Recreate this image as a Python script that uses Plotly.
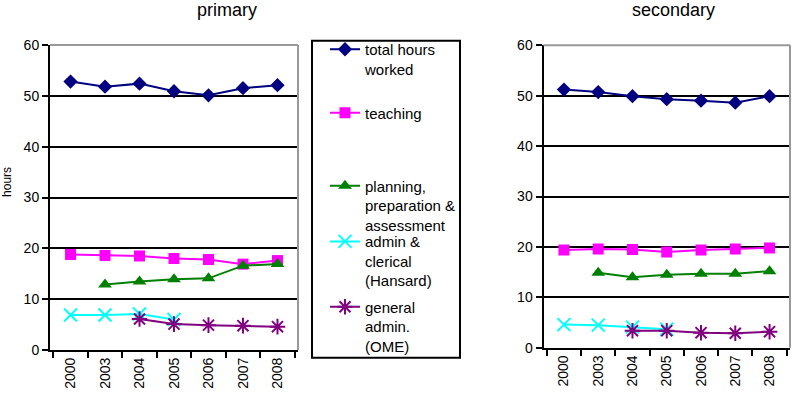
import plotly.graph_objects as go

W, H = 803, 408

years = ["2000", "2003", "2004", "2005", "2006", "2007", "2008"]

# primary
p_total = [52.8, 51.8, 52.4, 50.9, 50.1, 51.5, 52.1]
p_teaching = [18.8, 18.6, 18.5, 18.0, 17.8, 16.9, 17.6]
p_planning = [None, 12.9, 13.5, 13.9, 14.1, 16.6, 16.9]
p_admin_hansard = [6.9, 6.9, 7.1, 6.0, None, None, None]
p_admin_ome = [None, None, 6.1, 5.1, 4.9, 4.8, 4.6]

# secondary
s_total = [51.2, 50.7, 49.9, 49.3, 49.0, 48.6, 49.9]
s_teaching = [19.4, 19.6, 19.5, 19.0, 19.4, 19.6, 19.8]
s_planning = [None, 14.9, 14.0, 14.5, 14.7, 14.7, 15.2]
s_admin_hansard = [4.6, 4.5, 4.1, 3.7, None, None, None]
s_admin_ome = [None, None, 3.4, 3.4, 3.0, 2.9, 3.2]

series_names = [
    "total hours<br>worked",
    "teaching",
    "planning,<br>preparation &<br>assessment",
    "admin &<br>clerical<br>(Hansard)",
    "general<br>admin.<br>(OME)",
]
colors = ["#000080", "#FF00FF", "#008000", "#00FFFF", "#800080"]
symbols = ["diamond", "square", "triangle-up", "x-thin-open", "asterisk-open"]
sizes = [11, 11, 12, 13, 13]

primary = [p_total, p_teaching, p_planning, p_admin_hansard, p_admin_ome]
secondary = [s_total, s_teaching, s_planning, s_admin_hansard, s_admin_ome]

FONT = "Liberation Sans, Arial, sans-serif"

fig = go.Figure()

legend_names = ["legend", "legend2", "legend3", "legend4", "legend5"]

for i in range(5):
    marker = dict(symbol=symbols[i], size=sizes[i], color=colors[i])
    if symbols[i].endswith("-open"):
        marker["line"] = dict(color=colors[i], width=2)
    fig.add_trace(go.Scatter(
        x=years, y=primary[i], name=series_names[i], mode="lines+markers",
        line=dict(color=colors[i], width=2), marker=marker,
        xaxis="x", yaxis="y", legend=legend_names[i], showlegend=True,
        connectgaps=False,
    ))
    fig.add_trace(go.Scatter(
        x=years, y=secondary[i], name=series_names[i], mode="lines+markers",
        line=dict(color=colors[i], width=2), marker=marker,
        xaxis="x2", yaxis="y2", showlegend=False,
    ))

def px_x(v):
    return v / W

def px_y(v):
    return 1 - v / H

# plot areas (pixel coordinates)
p_left, p_right, p_top, p_bot = 50, 298, 38.5, 356
s_left, s_right, s_top, s_bot = 543.5, 790, 38.7, 353.7

xaxis_common = dict(
    type="category", showline=True, linecolor="black", linewidth=2,
    ticks="outside", tickson="boundaries", ticklen=6, tickwidth=2, tickcolor="black",
    tickangle=-90, tickfont=dict(family=FONT, size=14, color="black"),
    showgrid=False, zeroline=False, fixedrange=True,
)
yaxis_common = dict(
    range=[0, 60], dtick=10, showline=True, linecolor="black", linewidth=2,
    ticks="outside", ticklen=6, tickwidth=2, tickcolor="black",
    tickfont=dict(family=FONT, size=14, color="black"),
    showgrid=True, gridcolor="black", gridwidth=1.6, zeroline=False,
)

# legend entry top positions (pixels from top)
legend_tops = [26, 92, 168, 226, 294]
legends = {}
for i, name in enumerate(legend_names):
    legends[name] = dict(
        x=px_x(325), xanchor="left", y=px_y(legend_tops[i]), yanchor="top",
        bgcolor="rgba(0,0,0,0)", borderwidth=0, valign="top",
        font=dict(family=FONT, size=15, color="black"),
    )

fig.update_layout(
    width=W, height=H,
    margin=dict(l=0, r=0, t=0, b=0),
    paper_bgcolor="white", plot_bgcolor="white",
    xaxis=dict(domain=[px_x(p_left), px_x(p_right)], anchor="y", **xaxis_common),
    yaxis=dict(domain=[px_y(p_bot), px_y(p_top)], anchor="x", **yaxis_common),
    xaxis2=dict(domain=[px_x(s_left), px_x(s_right)], anchor="y2", **xaxis_common),
    yaxis2=dict(domain=[px_y(s_bot), px_y(s_top)], anchor="x2", **yaxis_common),
    **legends,
    annotations=[
        dict(text="primary", x=px_x(227), y=px_y(2), xref="paper", yref="paper",
             showarrow=False, font=dict(family=FONT, size=18, color="black"),
             xanchor="center", yanchor="middle"),
        dict(text="secondary", x=px_x(673), y=px_y(2), xref="paper", yref="paper",
             showarrow=False, font=dict(family=FONT, size=18, color="black"),
             xanchor="center", yanchor="middle"),
        dict(text="hours", x=px_x(7), y=px_y(181), xref="paper", yref="paper",
             showarrow=False, textangle=-90, font=dict(family=FONT, size=12, color="black"),
             xanchor="center", yanchor="middle"),
    ],
    shapes=[
        dict(type="line", xref="paper", yref="paper", x0=px_x(p_left), x1=px_x(p_right),
             y0=px_y(p_top), y1=px_y(p_top), line=dict(color="#999999", width=2), layer="above"),
        dict(type="line", xref="paper", yref="paper", x0=px_x(p_right), x1=px_x(p_right),
             y0=px_y(p_top), y1=px_y(p_bot), line=dict(color="#999999", width=2), layer="above"),
        dict(type="line", xref="paper", yref="paper", x0=px_x(s_left), x1=px_x(s_right),
             y0=px_y(s_top), y1=px_y(s_top), line=dict(color="#999999", width=2), layer="above"),
        dict(type="line", xref="paper", yref="paper", x0=px_x(s_right), x1=px_x(s_right),
             y0=px_y(s_top), y1=px_y(s_bot), line=dict(color="#999999", width=2), layer="above"),
        dict(type="rect", xref="paper", yref="paper", x0=px_x(312), x1=px_x(460),
             y0=px_y(364), y1=px_y(34), line=dict(color="black", width=2),
             fillcolor="rgba(0,0,0,0)", layer="above"),
    ],
)

fig.write_html("out.html")
